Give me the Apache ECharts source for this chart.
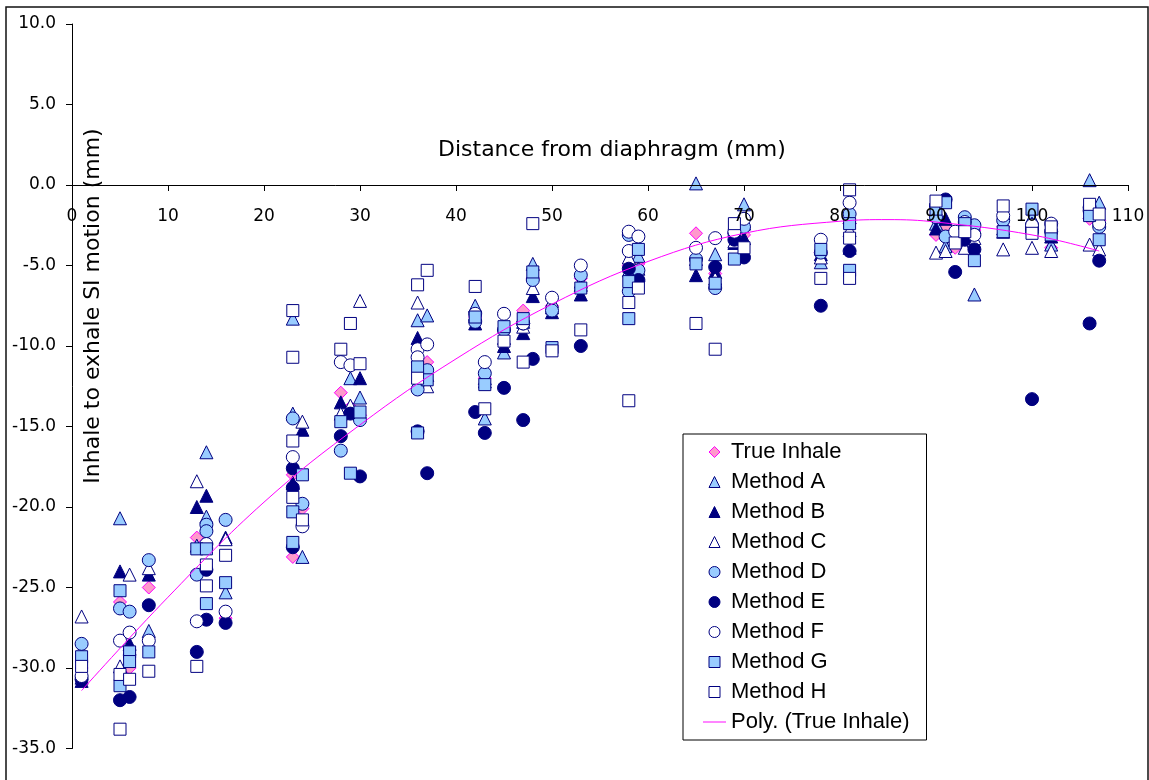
<!DOCTYPE html>
<html>
<head>
<meta charset="utf-8">
<script src="https://cdn.jsdelivr.net/npm/echarts@6/dist/echarts.min.js"></script>
<style>
html,body{margin:0;padding:0;background:#fff;}
#chart{width:1149px;height:780px;}
</style>
</head>
<body>
<div id="chart"></div>
<script>
// ---- Data ----
var xTicks = [0,10,20,30,40,50,60,70,80,90,100,110];
var yTicks = [-35,-30,-25,-20,-15,-10,-5,0,5,10];

var trueInhale = [[1,-30.0],[5,-25.9],[6,-30.0],[8,-25.0],[13,-21.9],[14,-22.5],[16,-26.9],[23,-18.0],[23,-23.1],[24,-20.1],[28,-12.9],[29,-13.8],[30,-14.3],[36,-11.0],[37,-11.0],[42,-8.2],[43,-12.0],[45,-9.0],[47,-7.8],[48,-5.8],[50,-7.5],[53,-5.8],[58,-5.0],[59,-4.9],[65,-3.0],[67,-5.5],[69,-3.0],[70,-3.1],[78,-4.2],[81,-2.4],[90,-3.1],[91,-2.6],[92,-3.9],[93,-3.0],[94,-2.8],[97,-2.6],[100,-2.7],[102,-3.9],[106,-2.1],[107,-2.2]];

var methodA = [[1,-30.6],[5,-20.7],[6,-28.8],[8,-27.7],[13,-22.4],[14,-16.6],[14,-20.6],[16,-25.3],[23,-8.3],[23,-14.2],[24,-23.1],[29,-12.0],[30,-13.2],[36,-8.4],[37,-8.1],[42,-7.5],[43,-14.5],[45,-10.4],[47,-8.5],[48,-4.9],[50,-7.6],[53,-6.2],[58,-5.3],[59,-4.4],[65,0.1],[67,-4.3],[69,-2.8],[70,-1.2],[78,-4.8],[81,-2.0],[90,-2.4],[91,-3.8],[93,-2.2],[94,-6.8],[97,-2.7],[100,-2.0],[102,-3.7],[106,0.3],[107,-1.1]];

var methodB = [[1,-30.8],[5,-24.0],[6,-28.5],[8,-24.2],[13,-20.0],[14,-19.3],[16,-21.9],[23,-18.5],[24,-15.2],[28,-13.5],[30,-12.0],[36,-9.5],[37,-11.8],[42,-8.6],[43,-12.2],[45,-10.0],[47,-9.2],[48,-6.9],[50,-7.9],[53,-6.8],[58,-5.0],[59,-5.6],[65,-5.6],[67,-5.4],[69,-3.6],[70,-3.3],[78,-4.3],[81,-3.9],[90,-2.7],[91,-2.1],[92,-3.4],[93,-2.8],[94,-2.6],[97,-2.9],[100,-2.4],[102,-3.2],[106,-1.7],[107,-2.0]];

var methodC = [[1,-26.8],[5,-29.9],[6,-24.2],[8,-23.8],[13,-18.4],[14,-22.2],[16,-22.0],[24,-14.7],[28,-14.2],[29,-13.7],[30,-7.2],[36,-7.3],[37,-12.5],[42,-8.0],[43,-12.0],[45,-9.5],[47,-8.8],[48,-6.4],[50,-7.2],[53,-6.0],[58,-4.5],[59,-5.2],[65,-4.6],[67,-5.8],[69,-3.5],[70,-2.4],[78,-4.5],[81,-2.8],[90,-4.2],[91,-4.1],[92,-3.2],[93,-3.9],[94,-3.3],[97,-4.0],[100,-3.9],[102,-4.1],[106,-3.7],[107,-4.0]];

var methodD = [[1,-28.5],[5,-26.3],[6,-26.5],[8,-23.3],[13,-24.2],[14,-21.1],[14,-21.5],[16,-20.8],[23,-14.5],[24,-19.8],[28,-16.5],[30,-14.6],[36,-12.7],[37,-11.5],[42,-8.5],[43,-11.7],[45,-9.0],[47,-8.6],[48,-5.9],[50,-7.8],[53,-5.6],[58,-3.1],[58,-6.6],[59,-5.3],[65,-4.6],[67,-6.4],[69,-3.0],[70,-2.6],[78,-4.2],[81,-1.8],[90,-2.0],[91,-3.2],[93,-2.0],[94,-2.5],[97,-2.2],[100,-2.9],[102,-2.9],[106,-1.6],[107,-2.6]];

var methodE = [[1,-30.7],[5,-32.0],[6,-31.8],[8,-26.1],[13,-29.0],[14,-23.9],[14,-27.0],[16,-27.2],[23,-17.6],[23,-18.8],[23,-22.5],[28,-15.6],[29,-14.2],[30,-18.1],[36,-15.3],[37,-17.9],[42,-14.1],[43,-15.4],[45,-12.6],[47,-14.6],[48,-10.8],[53,-10.0],[58,-5.2],[59,-5.9],[67,-5.1],[69,-3.4],[70,-4.5],[78,-7.5],[81,-4.1],[91,-0.9],[92,-5.4],[93,-3.4],[94,-4.0],[100,-2.6],[100,-13.3],[106,-8.6],[107,-4.7]];

var methodF = [[1,-30.5],[5,-28.3],[6,-27.8],[8,-28.3],[13,-27.1],[14,-22.3],[16,-26.5],[23,-16.9],[24,-21.2],[28,-11.0],[29,-11.2],[36,-10.2],[36,-10.7],[37,-9.9],[42,-8.0],[43,-11.0],[45,-8.0],[47,-8.6],[50,-7.0],[53,-5.0],[58,-2.9],[58,-4.1],[59,-3.2],[65,-3.9],[67,-3.3],[69,-2.9],[70,-2.1],[78,-3.4],[81,-1.1],[90,-1.3],[92,-2.9],[93,-2.3],[94,-3.1],[97,-1.9],[100,-2.5],[102,-2.4],[106,-1.4],[107,-2.4]];

var methodG = [[1,-29.3],[5,-25.2],[5,-31.1],[6,-29.0],[6,-29.6],[8,-29.0],[13,-22.6],[14,-22.6],[14,-26.0],[16,-24.7],[23,-20.3],[23,-22.2],[24,-18.0],[28,-14.7],[29,-17.9],[30,-14.1],[36,-11.3],[36,-15.4],[37,-12.1],[42,-8.2],[43,-12.4],[45,-8.8],[47,-8.3],[48,-5.4],[50,-10.1],[53,-6.4],[58,-6.0],[58,-8.3],[59,-4.0],[65,-4.9],[67,-6.1],[69,-4.6],[78,-4.0],[81,-2.4],[81,-5.3],[90,-1.5],[91,-1.1],[93,-2.4],[94,-4.7],[97,-2.9],[100,-1.5],[102,-3.1],[106,-1.9],[107,-3.4]];

var methodH = [[1,-29.9],[5,-30.4],[5,-33.8],[6,-30.7],[8,-30.2],[13,-29.9],[14,-23.6],[14,-24.9],[16,-23.0],[23,-7.8],[23,-10.7],[23,-15.9],[23,-19.4],[24,-20.8],[28,-10.2],[29,-8.6],[30,-11.1],[36,-6.2],[36,-12.0],[37,-5.3],[42,-6.3],[43,-13.9],[45,-9.7],[47,-11.0],[48,-2.4],[50,-10.3],[53,-9.0],[58,-7.3],[58,-13.4],[59,-6.4],[65,-8.6],[67,-10.2],[69,-2.4],[70,-3.9],[78,-5.8],[81,-0.3],[81,-3.3],[81,-5.8],[90,-1.0],[92,-3.6],[93,-2.9],[97,-1.3],[100,-3.0],[102,-2.6],[106,-1.2],[107,-1.8]];

// Polynomial trend line of True Inhale
var trendX = [1,10,20,30,40,50,60,70,80,85,90,100,107];
var trendY = [-31.4,-25.6,-19.7,-14.9,-10.8,-7.4,-4.75,-3.0,-2.25,-2.15,-2.3,-3.1,-4.1];

// ---- Chart ----
var NAVY = '#000080', LBLUE = '#99CCFF', WHITE = '#FFFFFF';
function scat(name, data, symbol, fill, border, size) {
  return {
    name: name, type: 'scatter', data: data, symbol: symbol, symbolSize: size,
    itemStyle: { color: fill, borderColor: border, borderWidth: 1, opacity: 1 },
    emphasis: { disabled: true }, silent: true
  };
}
var trendData = trendX.map(function (x, i) { return [x, trendY[i]]; });

var series = [
  scat('True Inhale', trueInhale, 'diamond', '#FF99CC', '#FF00FF', 13),
  scat('Method A', methodA, 'triangle', LBLUE, NAVY, 13),
  scat('Method B', methodB, 'triangle', NAVY, NAVY, 13),
  scat('Method C', methodC, 'triangle', WHITE, NAVY, 13),
  scat('Method D', methodD, 'circle', LBLUE, NAVY, 13),
  scat('Method E', methodE, 'circle', NAVY, NAVY, 13),
  scat('Method F', methodF, 'circle', WHITE, NAVY, 13),
  scat('Method G', methodG, 'rect', LBLUE, NAVY, 12),
  scat('Method H', methodH, 'rect', WHITE, NAVY, 12),
  {
    name: 'Poly. (True Inhale)', type: 'line', data: trendData, smooth: 0.4,
    symbol: 'none', showSymbol: false, silent: true, z: 3,
    lineStyle: { color: '#FF00FF', width: 1 }, itemStyle: { color: '#FF00FF' },
    emphasis: { disabled: true }
  }
];

var GRID_TOP = 24, GRID_BOTTOM = 31.5, H = 780;
var plotH = H - GRID_TOP - GRID_BOTTOM;
var yMin = yTicks[0], yMax = yTicks[yTicks.length - 1];
var zeroOffset = -plotH * (0 - yMin) / (yMax - yMin); // move x axis up to y = 0

var ICON_DIAMOND = 'path://M6,0L12,6L6,12L0,6Z';
var ICON_TRI = 'path://M6,0L12,12L0,12Z';
var ICON_SQ = 'path://M0,0H12V12H0Z';
var ICON_LINE = 'path://M0,0H24V1H0Z';

var chart = echarts.init(document.getElementById('chart'), null, { renderer: 'canvas' });
chart.setOption({
  animation: false,
  backgroundColor: '#ffffff',
  grid: { left: 72, top: GRID_TOP, right: 21, bottom: GRID_BOTTOM, containLabel: false },
  xAxis: {
    type: 'value', min: xTicks[0], max: xTicks[xTicks.length - 1], interval: 10,
    offset: zeroOffset, z: 10,
    axisLine: { onZero: false, lineStyle: { color: '#000', width: 1 } },
    axisTick: { show: true, length: 6, lineStyle: { color: '#000' } },
    splitLine: { show: false },
    axisLabel: { margin: 23, color: '#000', fontFamily: 'DejaVu Sans', fontSize: 17, showMaxLabel: true, showMinLabel: true }
  },
  yAxis: {
    type: 'value', min: yMin, max: yMax, interval: 5,
    axisLine: { show: true, onZero: false, lineStyle: { color: '#000', width: 1 } },
    axisTick: { show: true, length: 6, lineStyle: { color: '#000' } },
    splitLine: { show: false },
    axisLabel: { margin: 16, color: '#000', fontFamily: 'DejaVu Sans', fontSize: 17,
      formatter: function (v) { return v.toFixed(1); } }
  },
  legend: {
    orient: 'vertical', left: 683, top: 434,
    padding: [7, 17, 7, 20], itemGap: 8, itemWidth: 23, itemHeight: 11,
    backgroundColor: '#fff', borderColor: '#000', borderWidth: 1,
    selectedMode: false,
    itemStyle: { borderWidth: 1 },
    textStyle: { color: '#000', fontFamily: 'Liberation Sans', fontSize: 22 },
    data: [
      { name: 'True Inhale', icon: ICON_DIAMOND },
      { name: 'Method A', icon: ICON_TRI },
      { name: 'Method B', icon: ICON_TRI },
      { name: 'Method C', icon: ICON_TRI },
      { name: 'Method D', icon: 'circle' },
      { name: 'Method E', icon: 'circle' },
      { name: 'Method F', icon: 'circle' },
      { name: 'Method G', icon: ICON_SQ },
      { name: 'Method H', icon: ICON_SQ },
      { name: 'Poly. (True Inhale)', icon: ICON_LINE, itemStyle: { color: '#FF00FF', borderWidth: 0 } }
    ]
  },
  graphic: [
    { type: 'rect', silent: true, z: 100,
      shape: { x: 6, y: 7, width: 1142, height: 800 },
      style: { fill: 'none', stroke: '#111', lineWidth: 1.5 } },
    { type: 'text', silent: true, z: 100, left: 438, top: 139,
      style: { text: 'Distance from diaphragm (mm)', fill: '#000', font: '22px "DejaVu Sans"' } },
    { type: 'text', silent: true, z: 100, x: 93, y: 306, rotation: Math.PI / 2,
      style: { text: 'Inhale to exhale SI motion (mm)', fill: '#000', font: '22px "DejaVu Sans"',
        align: 'center', verticalAlign: 'middle' } }
  ],
  series: series
});
</script>
</body>
</html>
